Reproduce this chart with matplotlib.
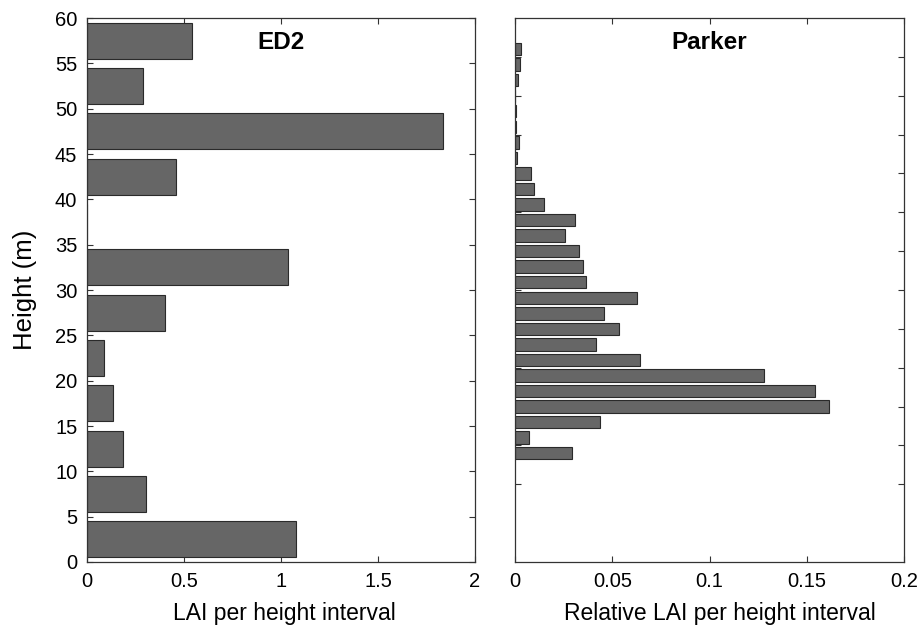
import matplotlib
matplotlib.use("Agg")
from matplotlib import pyplot as plt

plt.rcParams['font.family'] = ['Liberation Sans', 'DejaVu Sans']

# ED2: LAI per 5 m height interval
ed2_heights = [2.5, 7.5, 12.5, 17.5, 22.5, 27.5, 32.5, 37.5, 42.5, 47.5, 52.5, 57.5]
ed2_lai = [1.076, 0.305, 0.185, 0.134, 0.088, 0.40, 1.035, 0.0, 0.461, 1.836, 0.288, 0.541]

# Parker: relative LAI per 2 m height interval
parker_heights = [14, 16, 18, 20, 22, 24, 26, 28, 30, 32, 34, 36, 38, 40,
                  42, 44, 46, 48, 50, 52, 54, 56, 58, 60, 62, 64, 66]
parker_lai = [0.0295, 0.0074, 0.0437, 0.1615, 0.1545, 0.1282, 0.0645, 0.0418,
              0.0533, 0.0458, 0.0629, 0.0367, 0.0352, 0.0328, 0.0259, 0.0307,
              0.0151, 0.0096, 0.0084, 0.0012, 0.0022, 0.0007, 0.0003, 0.0,
              0.0017, 0.0024, 0.0033]

bar_color = '#666666'
edge_color = '#2a2a2a'
axis_color = '#333333'

fig = plt.figure(figsize=(9.2, 6.28), dpi=100)
ax1 = fig.add_axes([0.0946, 0.1051, 0.4217, 0.8662])
ax2 = fig.add_axes([0.5598, 0.1051, 0.4228, 0.8662])


def style_axes(ax):
    ax.set_axisbelow(True)
    for s in ax.spines.values():
        s.set_color(axis_color)
        s.set_linewidth(0.9)
    ax.tick_params(direction='in', length=4, width=0.8, color=axis_color,
                   top=True, right=True, labelsize=14.5, labelcolor='black')
    ax.tick_params(axis='x', pad=7)
    ax.tick_params(axis='y', pad=7)


# left panel
ax1.barh(ed2_heights, ed2_lai, height=4, color=bar_color,
         edgecolor=edge_color, linewidth=0.8)
ax1.set_xlim(0, 2)
ax1.set_ylim(0, 60)
ax1.set_xticks([0, 0.5, 1, 1.5, 2])
ax1.set_xticklabels(['0', '0.5', '1', '1.5', '2'])
ax1.set_yticks(range(0, 61, 5))
style_axes(ax1)
ax1.set_xlabel('LAI per height interval', fontsize=16.5, labelpad=8)
ax1.xaxis.label.set_x(0.508)
ax1.set_ylabel('Height (m)', fontsize=18.5)
ax1.yaxis.set_label_coords(-0.128, 0.5)
ax1.text(0.5, 0.955, 'ED2', transform=ax1.transAxes, ha='center', va='center',
         fontsize=17.5, fontweight='bold')

# right panel
ax2.barh(parker_heights, parker_lai, height=1.6, color=bar_color,
         edgecolor=edge_color, linewidth=0.8)
ax2.set_xlim(0, 0.2)
ax2.set_ylim(0, 70)
ax2.set_xticks([0, 0.05, 0.1, 0.15, 0.2])
ax2.set_xticklabels(['0', '0.05', '0.1', '0.15', '0.2'])
ax2.set_yticks(range(10, 66, 5))
ax2.set_yticklabels([])
style_axes(ax2)
ax2.set_xlabel('Relative LAI per height interval', fontsize=16.5, labelpad=8)
ax2.xaxis.label.set_x(0.526)
ax2.text(0.5, 0.955, 'Parker', transform=ax2.transAxes, ha='center', va='center',
         fontsize=17.5, fontweight='bold')

fig.savefig('out.png', dpi=100)
